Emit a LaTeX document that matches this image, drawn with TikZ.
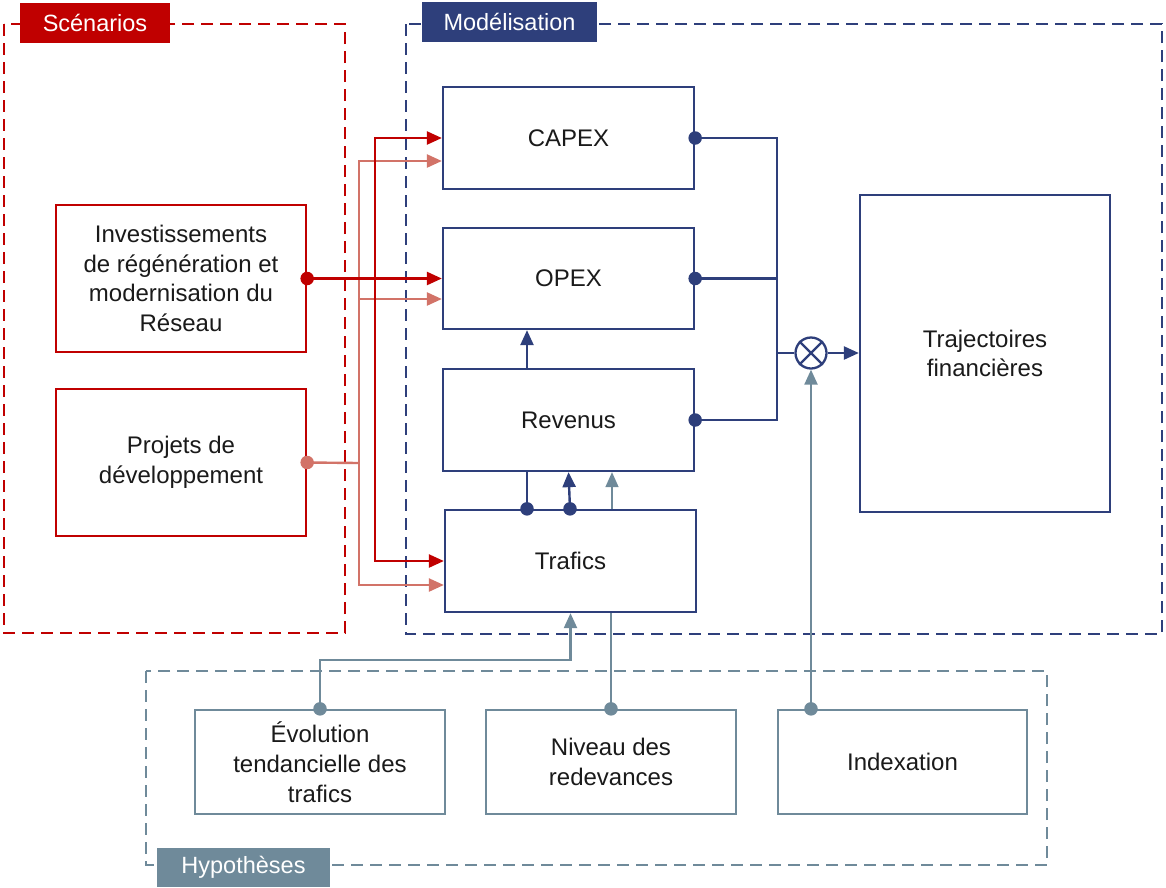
\documentclass[tikz,border=0pt]{standalone}
\usepackage{fontspec}
\setmainfont{Liberation Sans}
\usetikzlibrary{arrows.meta,calc}
\definecolor{cred}{HTML}{C00000}
\definecolor{clred}{HTML}{D27368}
\definecolor{cnavy}{HTML}{2E3F7B}
\definecolor{cgray}{HTML}{6F8A9A}
\definecolor{ctext}{HTML}{1A1A1A}
\begin{document}
\begin{tikzpicture}[x=1pt,y=-1pt,
  box/.style={draw,rectangle,line width=2.3pt,fill=white,inner sep=0pt,text=ctext,align=center,
    font=\fontsize{24}{29.7}\selectfont},
  frame/.style={line width=2.2pt,dash pattern=on 12pt off 7pt},
  tag/.style={rectangle,inner sep=0pt,text=white,font=\fontsize{23.5}{27}\selectfont},
  tip/.style={-{Triangle[length=15pt,width=13pt]}},
  conn/.style={line width=2.4pt},
  dot/.style={circle,fill,inner sep=0pt,minimum size=13.5pt}
]
\useasboundingbox (0,0) rectangle (1166,887);

% frames
\draw[frame,cred] (4,24) rectangle (345,633);
\draw[frame,cnavy] (406,24) rectangle (1162,634);
\draw[frame,cgray,line width=2pt] (146,671) rectangle (1047,865);
\node[tag,fill=cred,minimum width=150pt,minimum height=40pt] (tscen) at (95,23) {Scénarios};
\node[tag,fill=cnavy,minimum width=175pt,minimum height=40pt] (tmod) at (509.5,22) {Modélisation};
\node[tag,fill=cgray,minimum width=173pt,minimum height=39pt] (thyp) at (243.5,867.5) {Hypothèses};

% nodes
\node[box,draw=cred,minimum width=250pt,minimum height=147pt] (inv) at (181,278.5)
  {Investissements\\de régénération et\\modernisation du\\Réseau};
\node[box,draw=cred,minimum width=250pt,minimum height=147pt] (proj) at (181,462.5)
  {Projets de\\développement};
\node[box,draw=cnavy,minimum width=251pt,minimum height=102pt] (capex) at (568.5,138) {CAPEX};
\node[box,draw=cnavy,minimum width=251pt,minimum height=101pt] (opex) at (568.5,278.5) {OPEX};
\node[box,draw=cnavy,minimum width=251pt,minimum height=102pt] (rev) at (568.5,420) {Revenus};
\node[box,draw=cnavy,minimum width=251pt,minimum height=102pt] (traf) at (570.5,561) {Trafics};
\node[box,draw=cnavy,minimum width=250pt,minimum height=317pt] (traj) at (985,353.5)
  {Trajectoires\\financières};
\node[box,draw=cgray,minimum width=250pt,minimum height=104pt] (evo) at (320,762)
  {Évolution\\tendancielle des\\trafics};
\node[box,draw=cgray,minimum width=250pt,minimum height=104pt] (niv) at (611,762)
  {Niveau des\\redevances};
\node[box,draw=cgray,minimum width=249pt,minimum height=104pt] (idx) at (902.5,762)
  {Indexation};
\node[circle,draw=cnavy,line width=2.3pt,minimum size=31pt,inner sep=0pt,fill=white] (mult) at (811,353) {};
\draw[cnavy,line width=2.3pt] (mult.north east) -- (mult.south west) (mult.north west) -- (mult.south east);

% light red (projets)
\coordinate (lb) at (359,463);
\draw[conn,clred] (proj.east) -- (lb);
\draw[conn,clred,tip] (lb) |- ($(capex.west)+(0,23)$);
\draw[conn,clred,tip] (lb) |- ($(opex.west)+(0,20.5)$);
\draw[conn,clred,tip] (lb) |- ($(traf.west)+(0,24)$);
\node[dot,clred] (pdot) at (proj.east) {};

% red (investissements)
\coordinate (rb) at (375,278.5);
\draw[conn,cred,tip] (inv.east) -- (opex.west);
\draw[conn,cred,tip] (rb) |- (capex.west);
\draw[conn,cred,tip] (rb) |- (traf.west);
\node[dot,cred] (idot) at (inv.east) {};

% right side
\coordinate (bus) at (777,353);
\draw[conn,cnavy] (capex.east) -| (bus) |- (rev.east);
\draw[conn,cnavy] (opex.east) -- (opex.east -| bus);
\draw[conn,cnavy] (bus) -- (mult.west);
\draw[conn,cnavy,tip] (mult.east) -- (traj.west |- mult.east);
\node[dot,cnavy] at (capex.east) {};
\node[dot,cnavy] at (opex.east) {};
\node[dot,cnavy] at (rev.east) {};

% revenus -> opex
\draw[conn,cnavy,tip] ($(rev.north)+(-41.5,0)$) -- ($(opex.south)+(-41.5,0)$);

% trafics -> revenus
\coordinate (t1) at ($(traf.north)+(-43.5,0)$);
\coordinate (t2) at ($(traf.north)+(-0.5,0)$);
\draw[conn,cnavy] (t1) -- (t1 |- rev.south);
\draw[conn,cnavy,tip] (t2) -- ($(rev.south)+(0,0)$);
\node[dot,cnavy] at (t1) {};
\node[dot,cnavy] at (t2) {};

% hypotheses
\coordinate (nx) at ($(traf.north)+(41.5,0)$);
\draw[line width=1.6pt,cgray] (niv.north) -- (niv.north |- traf.south);
\draw[line width=1.6pt,cgray,tip] (nx) -- (nx |- rev.south);
\node[dot,cgray] at (niv.north) {};

\coordinate (ev) at (320,660);
\draw[line width=2.3pt,cgray,tip] (evo.north) -- (ev) -| (traf.south);
\node[dot,cgray] at (evo.north) {};

\coordinate (ix) at (mult |- idx.north);
\draw[line width=2.3pt,cgray,tip] (ix) -- (mult.south);
\node[dot,cgray] at (ix) {};
\end{tikzpicture}
\end{document}
